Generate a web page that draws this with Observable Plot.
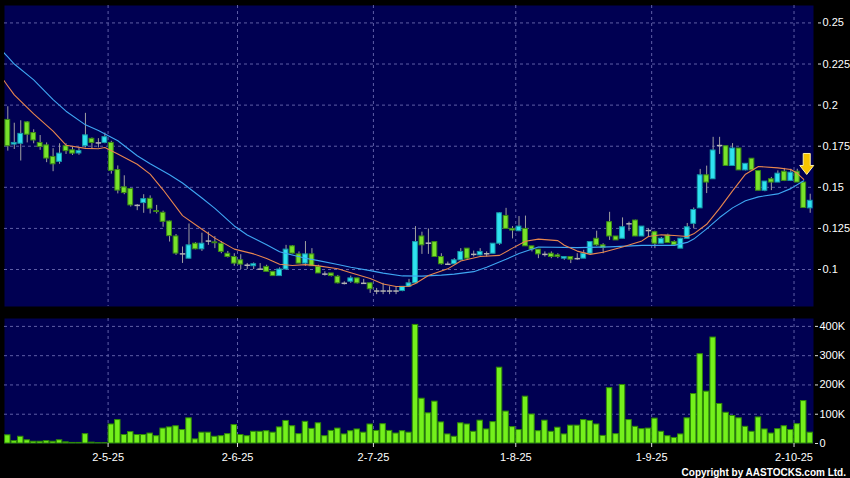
<!DOCTYPE html>
<html><head><meta charset="utf-8">
<script src="https://cdn.jsdelivr.net/npm/d3@7"></script>
<script src="https://cdn.jsdelivr.net/npm/@observablehq/plot@0.6"></script>
<style>
html,body{margin:0;padding:0;background:#000;overflow:hidden;}
#chart{position:relative;width:850px;height:478px;background:#000;overflow:hidden;font-family:Arial,"Liberation Sans",sans-serif;}
#top{position:absolute;left:0;top:0;}
#vol{position:absolute;left:0;top:310px;}
#copy{position:absolute;right:4px;top:467px;line-height:10px;color:#fff;font:bold 10px Arial,"Liberation Sans",sans-serif;white-space:nowrap;}
</style></head>
<body>
<div id="chart"><div id="top"></div><div id="vol"></div><div id="copy">Copyright by AASTOCKS.com Ltd.</div></div>
<script>
// ---- data (bar index 0..124, daily) ----
const opens = [0.191,0.176,0.1765,0.1895,0.183,0.177,0.1755,0.1685,0.1655,0.175,
0.1725,0.1706,0.175,0.1795,0.177,0.177,0.177,0.1605,0.150,0.149,
0.139,0.1404,0.143,0.1355,0.1345,0.1292,0.1201,0.1095,0.1066,0.1157,
0.1123,0.1173,0.1165,0.1157,0.1096,0.1076,0.1056,0.1026,0.102,0.1002,
0.1016,0.0986,0.096,0.100,0.1141,0.1092,0.1036,0.1092,0.1016,0.0972,
0.0976,0.0956,0.0916,0.0926,0.0946,0.0916,0.0916,0.0869,0.0869,0.0869,
0.0869,0.0869,0.0895,0.0916,0.1201,0.116,0.1167,0.1076,0.1032,0.1032,
0.1056,0.1127,0.1092,0.1086,0.1096,0.1096,0.1157,0.1326,0.1247,0.1233,
0.1247,0.1141,0.1121,0.1092,0.1096,0.1086,0.1066,0.1076,0.1066,0.1066,
0.1096,0.1187,0.1147,0.1288,0.1201,0.1187,0.1278,0.1298,0.1201,0.1237,
0.1227,0.1157,0.1207,0.1167,0.1127,0.1187,0.1278,0.1372,0.1573,0.1549,
0.1754,0.175,0.163,0.1736,0.1603,0.1674,0.1599,0.1479,0.1549,0.1529,
0.1595,0.1539,0.1595,0.1529,0.1372];
const highs = [0.199,0.189,0.1905,0.190,0.185,0.1815,0.177,0.1735,0.1765,0.1765,
0.1744,0.174,0.195,0.180,0.1796,0.183,0.178,0.163,0.157,0.1495,
0.1395,0.1455,0.1448,0.139,0.1355,0.1295,0.1213,0.1137,0.1277,0.1163,
0.1221,0.1227,0.120,0.117,0.111,0.1096,0.109,0.1036,0.104,0.1036,
0.1026,0.0986,0.101,0.1147,0.1145,0.1107,0.117,0.1127,0.1026,0.0986,
0.0976,0.0964,0.0925,0.096,0.0946,0.094,0.0916,0.0885,0.0916,0.0895,
0.0895,0.0895,0.094,0.1261,0.1227,0.1247,0.1167,0.1096,0.1045,0.1066,
0.1127,0.1127,0.1112,0.1127,0.1107,0.1157,0.1345,0.1372,0.1261,0.1322,
0.1325,0.1141,0.1121,0.1107,0.1107,0.1096,0.1076,0.1076,0.1096,0.1117,
0.1167,0.1233,0.1157,0.1348,0.1201,0.1314,0.1288,0.130,0.1261,0.1247,
0.1233,0.1195,0.1215,0.1175,0.119,0.128,0.1374,0.1609,0.1629,0.1804,
0.1804,0.175,0.1766,0.1736,0.1643,0.1674,0.160,0.1535,0.156,0.160,
0.1615,0.161,0.161,0.1529,0.1458];
const lows = [0.172,0.173,0.166,0.177,0.1765,0.1725,0.165,0.1595,0.164,0.170,
0.1694,0.1695,0.174,0.1735,0.174,0.1765,0.158,0.146,0.1455,0.138,
0.1358,0.1342,0.1338,0.1338,0.1257,0.1167,0.1086,0.1037,0.1064,0.112,
0.111,0.1147,0.1127,0.1096,0.107,0.102,0.100,0.100,0.100,0.100,
0.0986,0.096,0.096,0.0995,0.1095,0.1036,0.102,0.102,0.0976,0.096,
0.0955,0.0912,0.0906,0.0916,0.0912,0.0912,0.0855,0.0847,0.0847,0.0847,
0.0847,0.0865,0.0895,0.0912,0.1092,0.1092,0.1076,0.1026,0.1026,0.1032,
0.1056,0.1056,0.1076,0.1082,0.1076,0.1094,0.1147,0.1247,0.1186,0.123,
0.1141,0.1107,0.1066,0.1076,0.1066,0.1066,0.1056,0.1036,0.1056,0.1066,
0.1092,0.1141,0.1096,0.1177,0.1177,0.1187,0.1233,0.120,0.120,0.1195,
0.1127,0.1157,0.1161,0.1141,0.1127,0.1187,0.1247,0.1372,0.1462,0.1549,
0.170,0.163,0.163,0.1603,0.160,0.1603,0.1479,0.1473,0.148,0.1529,
0.1535,0.1535,0.1529,0.1374,0.1342];
const closes = [0.175,0.177,0.1825,0.182,0.1785,0.1745,0.1675,0.164,0.1705,0.172,
0.1705,0.172,0.1816,0.177,0.177,0.1805,0.160,0.148,0.1465,0.139,
0.139,0.1428,0.137,0.135,0.129,0.1203,0.1097,0.1095,0.1147,0.1123,
0.1157,0.1173,0.116,0.1107,0.1076,0.1036,0.103,0.1026,0.1032,0.1002,
0.0986,0.096,0.100,0.1121,0.1097,0.1036,0.1092,0.102,0.0976,0.0972,
0.096,0.0916,0.0916,0.0946,0.0916,0.0916,0.088,0.0869,0.0869,0.0869,
0.0869,0.0895,0.0916,0.1167,0.1147,0.116,0.1076,0.1032,0.1032,0.1056,
0.1107,0.1066,0.1092,0.1107,0.1096,0.1157,0.1342,0.1247,0.1237,0.1261,
0.1141,0.1121,0.1092,0.1092,0.1076,0.1076,0.1076,0.106,0.1066,0.1096,
0.1167,0.1147,0.1131,0.1201,0.1177,0.1257,0.1278,0.1201,0.1261,0.1237,
0.1157,0.1187,0.1161,0.1147,0.1187,0.1257,0.1362,0.1573,0.1529,0.1724,
0.1754,0.163,0.1736,0.1603,0.1643,0.1603,0.1479,0.1535,0.1529,0.1583,
0.1539,0.1589,0.1529,0.1374,0.1418];
// volume in thousands of shares
const volumes = [28,8,23,11,6,6,8,6,11,4,
2,2,32,3,1,1,65,80,29,39,
29,29,34,25,51,55,59,46,86,14,
37,37,23,25,32,63,29,25,40,40,
42,37,55,77,59,32,74,50,69,25,
43,51,31,42,48,37,65,43,66,43,
34,42,37,405,153,103,143,72,31,23,
69,65,40,78,48,73,259,109,56,46,
160,99,42,78,40,54,31,61,61,80,
77,65,26,189,32,200,80,57,49,51,
85,40,25,19,31,86,169,305,177,362,
135,105,94,86,57,40,89,48,34,49,
59,46,66,145,37];
// moving averages (bar index, value)
const maShortIdx = [-1,0,1,4,7,9,12,14,15,17,20,22,24,27,30,32,35,38,40,42,44,46,48,51,53,56,58,60,62,63,65,68,70,73,76,78,80,82,85,86,88,90,92,95,98,99,101,103,105,106,108,110,112,114,116,119,121,122,123];
const maShortVal = [0.2172,0.2116,0.2062,0.1947,0.1842,0.1756,0.1737,0.1735,0.1742,0.1702,0.164,0.158,0.1485,0.1328,0.1245,0.1191,0.1124,0.1095,0.1067,0.1032,0.1024,0.103,0.1022,0.1005,0.098,0.0945,0.0912,0.0897,0.0898,0.0915,0.0963,0.1004,0.1052,0.1079,0.1086,0.113,0.1172,0.1185,0.1176,0.1148,0.1112,0.1092,0.1105,0.1137,0.1174,0.1201,0.1211,0.1207,0.1201,0.1217,0.1275,0.1372,0.1478,0.158,0.1627,0.1618,0.1608,0.1585,0.1548];
const maLongIdx = [-1,0,1,4,7,9,12,14,17,20,22,25,27,30,32,35,37,40,42,43,46,48,51,53,56,58,61,64,67,69,72,74,77,79,82,88,93,98,103,105,106,108,110,112,114,116,119,121,123];
const maLongVal = [0.2335,0.2293,0.225,0.2154,0.2033,0.1963,0.188,0.1845,0.1783,0.1692,0.1643,0.1576,0.1526,0.1435,0.1372,0.1265,0.121,0.115,0.1108,0.1097,0.1069,0.1054,0.1031,0.1014,0.0993,0.0978,0.0961,0.096,0.0966,0.0972,0.0987,0.1014,0.1062,0.1097,0.1137,0.1133,0.1138,0.1147,0.1147,0.1165,0.1185,0.1247,0.1316,0.1375,0.1418,0.1442,0.146,0.1492,0.154];
const priceTicks = [0.1,0.125,0.15,0.175,0.2,0.225,0.25];
const volumeTicks = [0,100,200,300,400];
const monthIdx = [15,35,56,78,99,121];
const monthLabels = ["2-5-25","2-6-25","2-7-25","1-8-25","1-9-25","2-10-25"];
const signalIdx = [123];
const signalVal = [0.1642];

// ---- build ----
const N = opens.length;
const bars = d3.range(N).map(i => ({i, o: opens[i], h: highs[i], l: lows[i], c: closes[i], v: volumes[i]}));
const bodies = bars.filter(d => d.o !== d.c);
const dojis = bars.filter(d => d.o === d.c);
const maShort = maShortIdx.map((i, k) => ({i, v: maShortVal[k]}));
const maLong = maLongIdx.map((i, k) => ({i, v: maLongVal[k]}));
const signals = signalIdx.map((i, k) => ({i, v: signalVal[k]}));
const monthPos = monthIdx.map(i => i + 0.5);
const monthLabel = new Map(monthPos.map((p, k) => [p, monthLabels[k]]));

const NAVY = "#000052", GRID = "#5e5ea6";
const UPF = "#2fe2f0", UPS = "#159aa8", DNF = "#78e22a", DNS = "#3b8a16";
const xDomain = [-0.51, N - 0.49];
const font = 'Arial, "Liberation Sans", sans-serif';
const gridOpts = {stroke: GRID, strokeOpacity: 1, strokeDasharray: "3,3", strokeWidth: 1};

const arrowSymbol = {draw(ctx) {
  ctx.moveTo(-3.5, -10.5); ctx.lineTo(3.5, -10.5); ctx.lineTo(3.5, 1.5);
  ctx.lineTo(7, 1.5); ctx.lineTo(0, 10.5); ctx.lineTo(-7, 1.5);
  ctx.lineTo(-3.5, 1.5); ctx.closePath();
}};

const priceChart = Plot.plot({
  width: 850, height: 310,
  marginLeft: 4, marginRight: 37, marginTop: 5, marginBottom: 4,
  style: {background: "#000", color: "#fff", fontSize: "11px", fontFamily: font},
  x: {domain: xDomain, axis: null},
  y: {domain: [0.0775, 0.2606], label: null},
  marks: [
    Plot.frame({fill: NAVY}),
    Plot.gridY(priceTicks, gridOpts),
    Plot.gridX(monthPos, gridOpts),
    Plot.axisY(priceTicks, {anchor: "right", label: null, tickSize: 3, tickPadding: 2, dx: 4,
      tickFormat: d => String(+d.toFixed(3)), stroke: "#ddd", fill: "#fff", fontSize: 11}),
    Plot.ruleX(bars, {x: "i", y1: "l", y2: "h", stroke: "#a0a0a0", strokeWidth: 1}),
    Plot.rect(bodies, {x1: d => d.i - 0.37, x2: d => d.i + 0.37,
      y1: d => Math.min(d.o, d.c), y2: d => Math.max(d.o, d.c),
      fill: d => d.c > d.o ? UPF : DNF, stroke: d => d.c > d.o ? UPS : DNS, strokeWidth: 1}),
    Plot.link(dojis, {x1: d => d.i - 0.42, x2: d => d.i + 0.42, y1: "o", y2: "o", stroke: "#b4b4b4", strokeWidth: 1.5}),
    Plot.line(maLong, {x: "i", y: "v", stroke: "#3ea6f2", strokeWidth: 1.1, clip: true}),
    Plot.line(maShort, {x: "i", y: "v", stroke: "#e8864e", strokeWidth: 1.1, clip: true}),
    Plot.dot(signals, {x: "i", y: "v", dx: 3, symbol: arrowSymbol, r: 5, fill: "#f7c400", stroke: "#fff0a0", strokeWidth: 1})
  ]
});
document.getElementById("top").appendChild(priceChart);

const volumeChart = Plot.plot({
  width: 850, height: 168,
  marginLeft: 4, marginRight: 37, marginTop: 8, marginBottom: 35,
  style: {background: "#000", color: "#fff", fontSize: "11px", fontFamily: font},
  x: {domain: xDomain, label: null},
  y: {domain: [0, 427], label: null},
  marks: [
    Plot.frame({fill: NAVY}),
    Plot.gridY(volumeTicks.filter(d => d > 0), gridOpts),
    Plot.gridX(monthPos, gridOpts),
    Plot.rect(bars, {x1: d => d.i - 0.42, x2: d => d.i + 0.42, y1: 0, y2: "v",
      fill: "#74f01c", stroke: "#2f8a06", strokeWidth: 1}),
    Plot.axisY(volumeTicks, {anchor: "right", label: null, tickSize: 3, tickPadding: 2, dx: 1,
      tickFormat: d => d === 0 ? "0" : d + "K", stroke: "#ddd", fill: "#fff", fontSize: 11}),
    Plot.axisX(monthPos, {anchor: "bottom", label: null, tickSize: 4, tickPadding: 6,
      tickFormat: d => monthLabel.get(d), stroke: "#ddd", fill: "#fff", fontSize: 11})
  ]
});
document.getElementById("vol").appendChild(volumeChart);
</script>
</body></html>
